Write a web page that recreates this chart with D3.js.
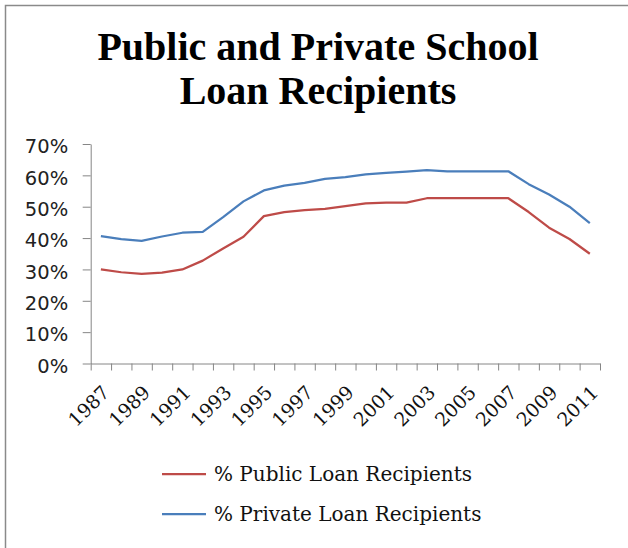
<!DOCTYPE html>
<html>
<head>
<meta charset="utf-8">
<script src="https://cdn.jsdelivr.net/npm/d3@7"></script>
<style>
  html, body { margin: 0; padding: 0; background: #fff; }
  svg { display: block; }
</style>
</head>
<body>
<svg id="chart" width="628" height="548"></svg>
<script>
// Share of students receiving loans, public vs private schools
const years = d3.range(1987, 2012);
const publicShare = [0.300, 0.291, 0.286, 0.290, 0.300, 0.328, 0.367, 0.404, 0.470, 0.483,
                     0.489, 0.493, 0.502, 0.511, 0.513, 0.513, 0.527, 0.527, 0.527, 0.527,
                     0.527, 0.483, 0.433, 0.397, 0.350];
const privateShare = [0.406, 0.397, 0.391, 0.405, 0.417, 0.420, 0.467, 0.517, 0.552, 0.567,
                      0.576, 0.589, 0.594, 0.603, 0.608, 0.612, 0.617, 0.613, 0.613, 0.613,
                      0.613, 0.572, 0.539, 0.500, 0.448];
const yTicks = [0, 0.1, 0.2, 0.3, 0.4, 0.5, 0.6, 0.7];
const labelYears = years.filter(y => (y - 1987) % 2 === 0);
const titleLines = ["Public and Private School", "Loan Recipients"];
const seriesNames = ["% Public Loan Recipients", "% Private Loan Recipients"];
const seriesColors = ["#be4b48", "#4a7ebb"];

const svg = d3.select("#chart");

// outer chart frame
svg.append("rect")
  .attr("x", 5.5).attr("y", 5.5)
  .attr("width", 700).attr("height", 700)
  .attr("fill", "#fff")
  .attr("stroke", "#8a8a8a").attr("stroke-width", 1.5);

// title
svg.append("g").selectAll("text")
  .data(titleLines).join("text")
  .attr("x", 318)
  .attr("y", (d, i) => 60 + i * 44)
  .attr("text-anchor", "middle")
  .attr("font-family", "'Liberation Serif', serif")
  .attr("font-weight", "bold")
  .attr("font-size", 40)
  .attr("fill", "#000")
  .text(d => d);

// scales
const plotLeft = 90.7, plotRight = 600, plotTop = 144, plotBottom = 363.5;
const x = d3.scaleBand().domain(years).range([plotLeft, plotRight]).padding(0);
const xEdge = d3.scaleLinear().domain([0, years.length]).range([plotLeft, plotRight]);
const y = d3.scaleLinear().domain([0, 0.7]).range([plotBottom, plotTop]);
const cx = d => x(d) + x.bandwidth() / 2;

const axisColor = "#868686";

// y axis
const yAxis = svg.append("g")
  .attr("transform", `translate(${plotLeft},0)`)
  .call(d3.axisLeft(y).tickValues(yTicks).tickFormat(d3.format(".0%"))
    .tickSize(8).tickPadding(14.5).tickSizeOuter(0));
yAxis.select(".domain").attr("stroke", axisColor);
yAxis.selectAll(".tick line").attr("stroke", axisColor);
yAxis.selectAll(".tick text")
  .attr("font-family", "'DejaVu Sans', sans-serif")
  .attr("font-size", 19.5)
  .attr("fill", "#222")
  .attr("dy", "0.45em");

// x axis: ticks on category boundaries
const xAxis = svg.append("g")
  .attr("transform", `translate(0,${plotBottom})`)
  .call(d3.axisBottom(xEdge).tickValues(d3.range(years.length + 1)).tickFormat("")
    .tickSize(7).tickSizeOuter(0));
xAxis.select(".domain").attr("stroke", axisColor);
xAxis.selectAll(".tick line").attr("stroke", axisColor);

// rotated year labels
svg.append("g").selectAll("text")
  .data(labelYears).join("text")
  .attr("transform", d => `translate(${cx(d)},${384}) rotate(-45)`)
  .attr("text-anchor", "end")
  .attr("dy", "0.72em")
  .attr("font-family", "'DejaVu Serif', serif")
  .attr("font-size", 19)
  .attr("fill", "#111")
  .text(d => d);

// series lines
const line = d3.line().x((d, i) => cx(years[i])).y(d => y(d));
[publicShare, privateShare].forEach((vals, k) => {
  svg.append("path")
    .datum(vals)
    .attr("d", line)
    .attr("fill", "none")
    .attr("stroke", seriesColors[k])
    .attr("stroke-width", 2.25)
    .attr("stroke-linejoin", "round");
});

// legend
const legend = svg.append("g").selectAll("g")
  .data(seriesNames).join("g")
  .attr("transform", (d, i) => `translate(162,${474 + i * 40})`);
legend.append("line")
  .attr("x1", 0).attr("x2", 44).attr("y1", 0).attr("y2", 0)
  .attr("stroke", (d, i) => seriesColors[i])
  .attr("stroke-width", 2.25);
legend.append("text")
  .attr("x", 52).attr("y", 0).attr("dy", "0.36em")
  .attr("font-family", "'DejaVu Serif', serif")
  .attr("font-size", 20)
  .attr("fill", "#111")
  .text(d => d);
</script>
</body>
</html>
